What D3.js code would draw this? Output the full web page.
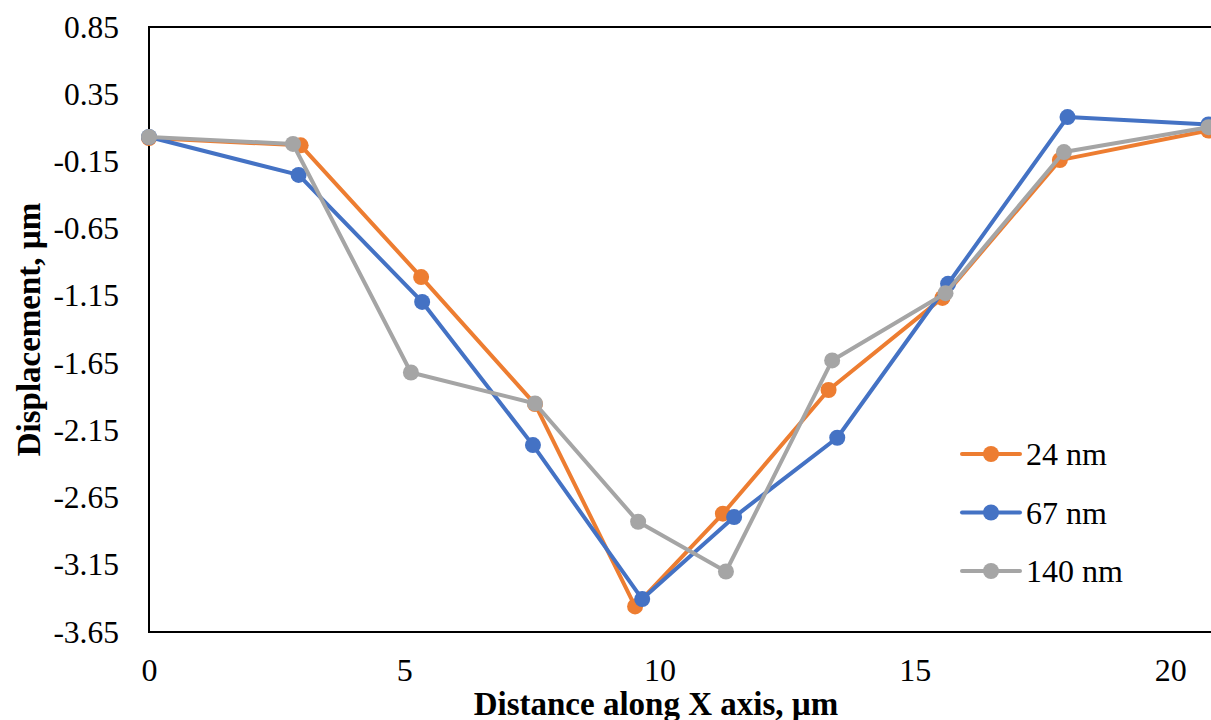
<!DOCTYPE html>
<html>
<head>
<meta charset="utf-8">
<style>
body { margin: 0; font-family: 'Liberation Serif', serif; }
svg, svg text { font-family: 'Liberation Serif', serif; }
</style>
</head>
<body>

<script src="https://d3js.org/d3.v7.min.js"></script>

<script>

// data
var distance24  = [0, 2.97, 5.33, 7.56, 9.52, 11.24, 13.31, 15.54, 17.84, 20.75];
var disp24      = [0.024, -0.03, -1.01, -1.955, -3.46, -2.77, -1.85, -1.165, -0.14, 0.08];

var distance67  = [0, 2.93, 5.35, 7.52, 9.66, 11.46, 13.48, 15.65, 17.99, 20.75];
var disp67      = [0.032, -0.25, -1.195, -2.26, -3.405, -2.795, -2.205, -1.06, 0.18, 0.125];

var distance140 = [0, 2.82, 5.13, 7.56, 9.58, 11.30, 13.38, 15.60, 17.92, 20.75];
var disp140     = [0.032, -0.02, -1.72, -1.95, -2.83, -3.20, -1.63, -1.13, -0.08, 0.105];

var seriesNames  = ["24 nm", "67 nm", "140 nm"];
var seriesColors = ["#ED7D31", "#4472C4", "#A5A5A5"];

var yTicks = [0.85, 0.35, -0.15, -0.65, -1.15, -1.65, -2.15, -2.65, -3.15, -3.65];
var xTicks = [0, 5, 10, 15, 20];

var series = [
    {name: seriesNames[0], color: seriesColors[0], xs: distance24,  ys: disp24},
    {name: seriesNames[1], color: seriesColors[1], xs: distance67,  ys: disp67},
    {name: seriesNames[2], color: seriesColors[2], xs: distance140, ys: disp140}
];

var FONT = "Liberation Serif";

var W = 1211, H = 720;
var margin = {top: 27, right: 0, bottom: 88, left: 149};

var svg = d3.select("body").append("svg")
    .attr("width", W)
    .attr("height", H)
    .attr("font-family", FONT);

var xScale = d3.scaleLinear()
    .domain([0, 20.8])
    .range([margin.left, W - margin.right]);

var yScale = d3.scaleLinear()
    .domain([-3.65, 0.85])
    .range([H - margin.bottom, margin.top]);

// plot frame
svg.append("rect")
    .attr("x", margin.left)
    .attr("y", margin.top)
    .attr("width", W - margin.left + 10)
    .attr("height", H - margin.bottom - margin.top)
    .attr("fill", "none")
    .attr("stroke", "#000")
    .attr("stroke-width", 2);

// y axis labels
var yAxis = d3.axisLeft(yScale)
    .tickValues(yTicks)
    .tickSize(0)
    .tickPadding(30)
    .tickFormat(function(d) { return d.toFixed(2) });

svg.append("g")
   .attr("transform", "translate(" + margin.left + ",0)")
   .call(yAxis)
   .attr("font-family", FONT)
   .attr("font-size", 31.5)
   .call(function(g) { g.select(".domain").remove() })
   .selectAll("text")
     .attr("fill", "#000");

// x axis labels
var xAxis = d3.axisBottom(xScale)
    .tickValues(xTicks)
    .tickSize(0)
    .tickPadding(26)
    .tickFormat(d3.format("d"));

svg.append("g")
   .attr("transform", "translate(0," + (H - margin.bottom) + ")")
   .call(xAxis)
   .attr("font-family", FONT)
   .attr("font-size", 32)
   .call(function(g) { g.select(".domain").remove() })
   .selectAll("text")
     .attr("fill", "#000");

// titles
svg.append("text")
    .attr("x", 656)
    .attr("y", 715)
    .attr("text-anchor", "middle")
    .attr("font-size", 33)
    .attr("font-weight", "bold")
    .text("Distance along X axis, µm");

svg.append("text")
    .attr("transform", "translate(40," + ((margin.top + H - margin.bottom) / 2) + ") rotate(-90)")
    .attr("text-anchor", "middle")
    .attr("font-size", 33)
    .attr("font-weight", "bold")
    .text("Displacement, µm");

// lines + markers
var line = d3.line()
    .x(function(d) { return xScale(d[0]) })
    .y(function(d) { return yScale(d[1]) });

series.forEach(function(s) {
    var pts = s.xs.map(function(x, i) { return [x, s.ys[i]] });

    svg.append("path")
        .datum(pts)
        .attr("d", line)
        .attr("fill", "none")
        .attr("stroke", s.color)
        .attr("stroke-width", 4)
        .attr("stroke-linejoin", "round");

    svg.selectAll(null)
        .data(pts)
      .enter().append("circle")
        .attr("cx", function(d) { return xScale(d[0]) })
        .attr("cy", function(d) { return yScale(d[1]) })
        .attr("r", 8)
        .attr("fill", s.color);
});

// legend
var legend = svg.append("g")
    .attr("transform", "translate(960,454)");

var item = legend.selectAll("g")
    .data(series)
  .enter().append("g")
    .attr("transform", function(d, i) { return "translate(0," + i * 58.5 + ")" });

item.append("line")
    .attr("x1", 2).attr("x2", 60)
    .attr("stroke", function(d) { return d.color })
    .attr("stroke-width", 4)
    .attr("stroke-linecap", "round");

item.append("circle")
    .attr("cx", 31)
    .attr("r", 8)
    .attr("fill", function(d) { return d.color });

item.append("text")
    .attr("x", 66)
    .attr("dy", "0.35em")
    .attr("font-size", 32)
    .text(function(d) { return d.name });

</script>
</body>
</html>
